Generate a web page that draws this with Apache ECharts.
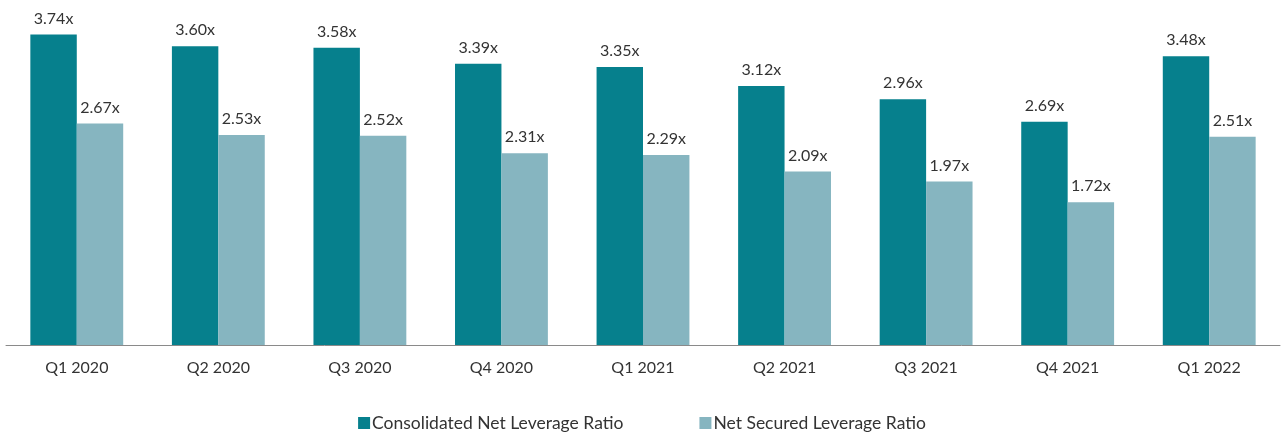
<!DOCTYPE html>
<html>
<head>
<meta charset="utf-8">
<script src="https://cdn.jsdelivr.net/npm/echarts@6/dist/echarts.min.js"></script>
<style>
  html, body { margin: 0; padding: 0; background: #ffffff; }
  #chart { width: 1284px; height: 440px; }
</style>
</head>
<body>
<div id="chart"></div>
<script>
// Quarterly leverage ratios
const quarters = ['Q1 2020', 'Q2 2020', 'Q3 2020', 'Q4 2020', 'Q1 2021', 'Q2 2021', 'Q3 2021', 'Q4 2021', 'Q1 2022'];
const consolidatedNet = [3.74, 3.60, 3.58, 3.39, 3.35, 3.12, 2.96, 2.69, 3.48];
const netSecured = [2.67, 2.53, 2.52, 2.31, 2.29, 2.09, 1.97, 1.72, 2.51];
const seriesNames = ['Consolidated Net Leverage Ratio', 'Net Secured Leverage Ratio'];

const FONT = 'Lato, "Open Sans", sans-serif';
const TEXT = '#333333';

const chart = echarts.init(document.getElementById('chart'), null, { renderer: 'canvas' });

const barLabel = {
  show: true,
  position: 'top',
  distance: 8,
  color: TEXT,
  fontFamily: FONT,
  fontSize: 16,
  formatter: p => p.value.toFixed(2) + 'x'
};

chart.setOption({
  animation: false,
  backgroundColor: '#ffffff',
  grid: { left: 6, right: 4, top: 13, bottom: 95, containLabel: false },
  legend: {
    bottom: 3,
    left: 'center',
    itemWidth: 12,
    itemHeight: 12,
    itemGap: 76,
    icon: 'rect',
    textStyle: { color: TEXT, fontFamily: FONT, fontSize: 17.5, padding: [0, 0, 0, -3] },
    data: seriesNames
  },
  xAxis: {
    type: 'category',
    data: quarters,
    axisLine: { lineStyle: { color: '#8a8a8a', width: 1 } },
    axisTick: { show: false },
    axisLabel: { color: TEXT, fontFamily: FONT, fontSize: 16, margin: 15 }
  },
  yAxis: {
    type: 'value',
    min: 0,
    max: 4,
    show: false,
    splitLine: { show: false }
  },
  series: [
    {
      name: seriesNames[0],
      type: 'bar',
      data: consolidatedNet,
      barWidth: '32.8%',
      barGap: '0%',
      itemStyle: { color: '#06808D' },
      label: barLabel
    },
    {
      name: seriesNames[1],
      type: 'bar',
      data: netSecured,
      barWidth: '32.8%',
      itemStyle: { color: '#86B5C0' },
      label: barLabel
    }
  ]
});
</script>
</body>
</html>
